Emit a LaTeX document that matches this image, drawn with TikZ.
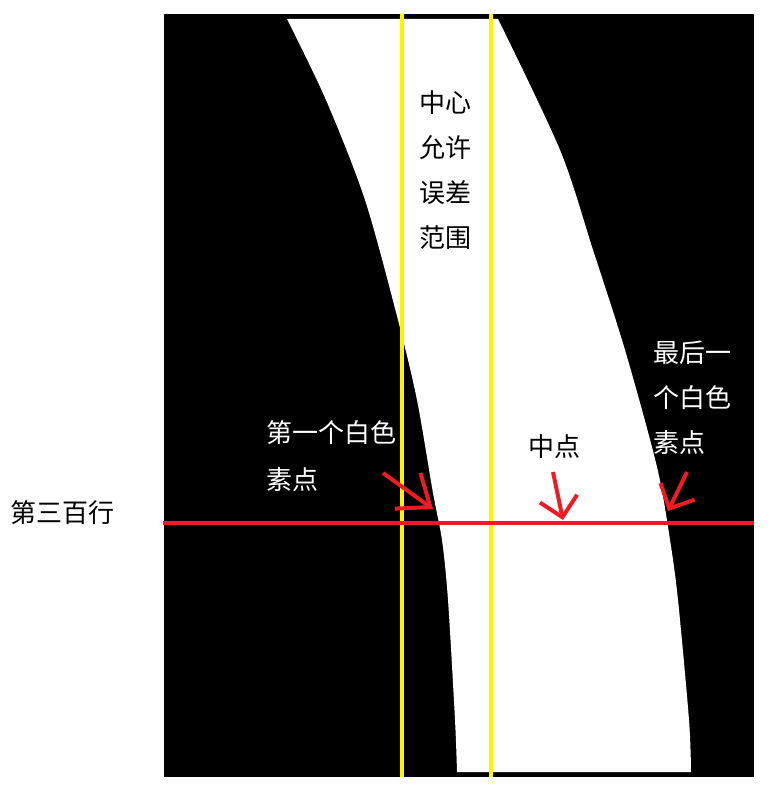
\documentclass[tikz,border=0pt]{standalone}
\usepackage{fontspec}
\setmainfont{Noto Sans CJK SC}
\usepackage{xcolor}
\usepackage{tikz}
\usetikzlibrary{arrows.meta}
\usetikzlibrary{positioning}
\definecolor{paintred}{RGB}{237,28,36}
\definecolor{paintyellow}{RGB}{255,242,0}
\tikzset{
  lbl/.style = {inner sep=0pt, font=\fontsize{26}{45}\selectfont},
  lbl_b/.style = {lbl, black, align=center},% text on white
  lbl_w/.style = {lbl, white, align=left, anchor=west},% text on black
  guide/.style = {paintyellow, line width=4pt},
  rowline/.style = {paintred, line width=4pt},
  pointer/.style = {paintred, line width=4pt,
    -{Straight Barb[length=19pt,width=38pt]}}
}

\begin{document}
\begin{tikzpicture}[x=1pt,y=-1pt]
\useasboundingbox (0,0) rectangle (776,794);
% binary image with the white lane
\fill[black] (164,14) rectangle (754,777);
\fill[white] plot[smooth] coordinates {(287,19) (326,100) (365,200) (398,320)
    (417,400) (433,493) (442,540) (448,600) (455,720) (457,772)}
  -- plot[smooth] coordinates {(691,772) (689,720) (678,600) (670,540)
    (657,467) (625,350) (593,250) (560,150) (498,19)} -- cycle;

% tolerance band
\coordinate (gl_top) at (402,14);
\coordinate (gl_bot) at (402,777);
\coordinate (gr_top) at (491,14);
\coordinate (gr_bot) at (491,777);
\draw[guide] (gl_top) -- (gl_bot);
\draw[guide] (gr_top) -- (gr_bot);

% row 300
\coordinate (row_w) at (163,523);
\coordinate (row_e) at (754,523);
\draw[rowline] (row_w) -- (row_e);

\node[lbl_b] (tol) at (445,170) {中心\\允许\\误差\\范围};
\node[lbl_w] (last_lbl) at (653,398) {最后一\\个白色\\素点};
\node[lbl_w, font=\fontsize{26}{47}\selectfont] (first_lbl) at (266,456) {第一个白色\\素点};
\node[lbl_b] (mid_lbl) at (554,447) {中点};
\node[lbl_b] (row_lbl) at (62,513) {第三百行};

\coordinate (first_tail) at (383,473);
\coordinate (first_px) at (433,509);
\coordinate (mid_tail) at (553,472);
\coordinate (mid_px) at (563,520);
\coordinate (last_tail) at (687,472);
\coordinate (last_px) at (668,511);
\draw[pointer, -{Straight Barb[length=28pt,width=44pt]}] (first_tail) -- (first_px);
\draw[pointer] (mid_tail) -- (mid_px);
\draw[pointer] (last_tail) -- (last_px);
%\draw[red,dashed] (first_px) -- (last_px);
\end{tikzpicture}
\end{document}
